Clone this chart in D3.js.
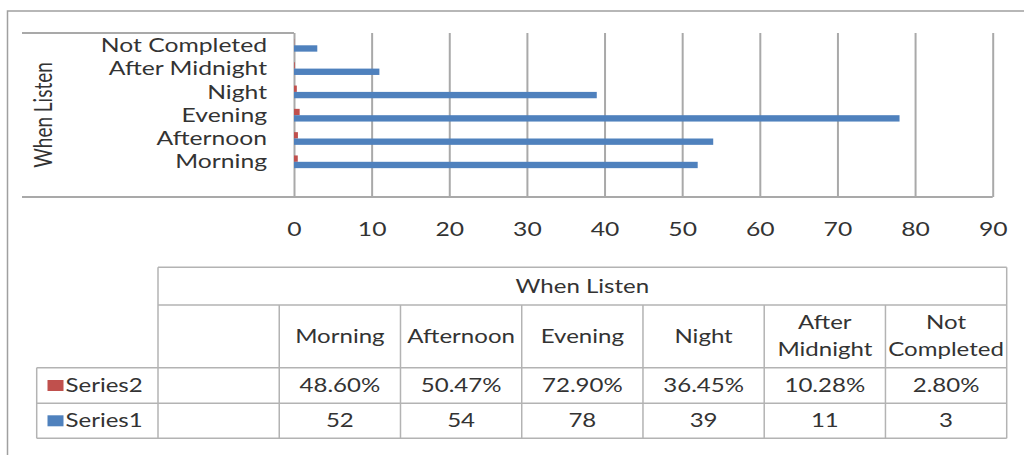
<!DOCTYPE html>
<html><head><meta charset="utf-8">
<script src="https://cdn.jsdelivr.net/npm/d3@7"></script>
<style>
html,body{margin:0;padding:0;background:#fff;}
svg{display:block;}
text{font-family:Lato, "Noto Sans", sans-serif; fill:#333;}
</style></head>
<body>
<svg id="c" width="1024" height="455"></svg>
<script>
// ---- data ----
const categories = ["Morning","Afternoon","Evening","Night","After Midnight","Not Completed"];
const series1 = [52, 54, 78, 39, 11, 3];
const series2 = [0.4860, 0.5047, 0.7290, 0.3645, 0.1028, 0.0280];
const series2Labels = ["48.60%","50.47%","72.90%","36.45%","10.28%","2.80%"];
const series1Labels = ["52","54","78","39","11","3"];
const seriesNames = ["Series2","Series1"];
const xTicks = [0,10,20,30,40,50,60,70,80,90];
const axisTitle = "When Listen";

// ---- style ----
const BLUE = "#4F81BD", RED = "#C0504D";
const GRID = "#a9a9a9", BORDER = "#b3b3b3";
const K = 1.3; // horizontal stretch of text (reference image is stretched)

const svg = d3.select("#c");

function stretchText(sel){
  sel.each(function(){
    const t = d3.select(this);
    const x = +t.attr("x")||0, y = +t.attr("y")||0;
    t.attr("x",0).attr("y",0).attr("transform",`translate(${x},${y}) scale(${K},1)`);
  });
  return sel;
}

// outer frame
svg.append("path").attr("d","M7.5,455 V11 H1024").attr("fill","none").attr("stroke","#a0a0a0").attr("stroke-width",1.5);

// ---- scales ----
const x = d3.scaleLinear().domain([0,90]).range([294,992.7]);
const plotTop = 33, plotBottom = 197;
const yCat = d3.scaleBand().domain(categories.slice().reverse()).range([33.65,173.45])
  .paddingInner(0.455).paddingOuter(0.2275);
const ySer = d3.scaleBand().domain(seriesNames).range([0,yCat.bandwidth()]);

// gridlines via axis
const grid = svg.append("g").attr("transform",`translate(0,${plotBottom})`)
  .call(d3.axisBottom(x).tickValues(xTicks).tickSize(-(plotBottom-plotTop)).tickFormat(""));
grid.select(".domain").remove();
grid.selectAll("line").attr("stroke",GRID).attr("stroke-width",2);

// frame lines of plot / category box
svg.append("line").attr("x1",22).attr("x2",x(0)).attr("y1",plotTop).attr("y2",plotTop).attr("stroke",GRID).attr("stroke-width",2);
svg.append("line").attr("x1",22).attr("x2",x(90)).attr("y1",plotBottom).attr("y2",plotBottom).attr("stroke",GRID).attr("stroke-width",2);

// bars
const g = svg.append("g");
categories.forEach((c,i)=>{
  g.append("rect").attr("x",x(0)).attr("y",yCat(c)+ySer("Series2"))
    .attr("width",x(series2[i])-x(0)).attr("height",ySer.bandwidth()).attr("fill",RED);
  g.append("rect").attr("x",x(0)).attr("y",yCat(c)+ySer("Series1"))
    .attr("width",x(series1[i])-x(0)).attr("height",ySer.bandwidth()).attr("fill",BLUE);
});

// category labels
svg.append("g").selectAll("text").data(categories).join("text")
  .attr("x",267).attr("y",d=>yCat(d)+yCat.bandwidth()/2)
  .attr("dy","0.35em").attr("text-anchor","end").attr("font-size",19).text(d=>d)
  .call(stretchText);

// axis title
svg.append("text").attr("transform",`translate(52,${(plotTop+plotBottom)/2}) rotate(-90) scale(1,${K})`)
  .attr("text-anchor","middle").attr("font-size",19).text(axisTitle);

// x tick labels via axis
const xa = svg.append("g").attr("transform",`translate(0,${plotBottom})`)
  .call(d3.axisBottom(x).tickValues(xTicks).tickSize(0).tickPadding(26));
xa.select(".domain").remove();
xa.selectAll("text").attr("font-size",19).attr("font-family","Lato, sans-serif").attr("fill","#333")
  .attr("transform",`scale(${K},1)`);

// ---- data table ----
const cols = d3.scaleBand().domain(["_blank"].concat(categories)).range([158,1006.7]);
const rowY = [267.3,305,367.7,403.3,438.3];
const tb = svg.append("g").attr("stroke",BORDER).attr("stroke-width",1.5).attr("fill","none");
// horizontal lines
tb.append("line").attr("x1",158).attr("x2",1006.7).attr("y1",rowY[0]).attr("y2",rowY[0]);
tb.append("line").attr("x1",158).attr("x2",1006.7).attr("y1",rowY[1]).attr("y2",rowY[1]);
tb.append("line").attr("x1",36.7).attr("x2",1006.7).attr("y1",rowY[2]).attr("y2",rowY[2]);
tb.append("line").attr("x1",36.7).attr("x2",1006.7).attr("y1",rowY[3]).attr("y2",rowY[3]);
tb.append("line").attr("x1",36.7).attr("x2",1006.7).attr("y1",rowY[4]).attr("y2",rowY[4]);
// vertical lines
tb.append("line").attr("x1",36.7).attr("x2",36.7).attr("y1",rowY[2]).attr("y2",rowY[4]);
tb.append("line").attr("x1",158).attr("x2",158).attr("y1",rowY[0]).attr("y2",rowY[4]);
tb.append("line").attr("x1",1006.7).attr("x2",1006.7).attr("y1",rowY[0]).attr("y2",rowY[4]);
categories.forEach(c=>{
  tb.append("line").attr("x1",cols(c)).attr("x2",cols(c)).attr("y1",rowY[1]).attr("y2",rowY[4]);
});

const TF = 18.5;
svg.append("text").attr("x",(158+1006.7)/2).attr("y",(rowY[0]+rowY[1])/2).attr("dy","0.35em")
  .attr("text-anchor","middle").attr("font-size",TF).text(axisTitle).call(stretchText);

// header categories (wrap if too wide)
categories.forEach(c=>{
  const cx = cols(c)+cols.bandwidth()/2, cy=(rowY[1]+rowY[2])/2;
  const t = svg.append("text").attr("text-anchor","middle").attr("font-size",TF).text(c);
  const w = t.node().getComputedTextLength()*K;
  if (w > cols.bandwidth()-4 && c.indexOf(" ")>0){
    const parts = c.split(" ");
    t.remove();
    parts.forEach((p,j)=>{
      svg.append("text").attr("x",cx).attr("y",cy+(j-(parts.length-1)/2)*27).attr("dy","0.35em")
        .attr("text-anchor","middle").attr("font-size",TF).text(p).call(stretchText);
    });
  } else {
    t.attr("x",cx).attr("y",cy).attr("dy","0.35em").call(stretchText);
  }
});

// rows
const rows = [{name:"Series2",color:RED,labels:series2Labels},{name:"Series1",color:BLUE,labels:series1Labels}];
rows.forEach((r,ri)=>{
  const cy = (rowY[2+ri]+rowY[3+ri])/2;
  svg.append("rect").attr("x",47.5).attr("y",cy-5.5).attr("width",16).attr("height",11).attr("fill",r.color);
  svg.append("text").attr("x",65.5).attr("y",cy).attr("dy","0.35em").attr("font-size",TF).text(r.name).call(stretchText);
  categories.forEach((c,i)=>{
    svg.append("text").attr("x",cols(c)+cols.bandwidth()/2).attr("y",cy).attr("dy","0.35em")
      .attr("text-anchor","middle").attr("font-size",TF).text(r.labels[i]).call(stretchText);
  });
});
</script>
</body></html>
